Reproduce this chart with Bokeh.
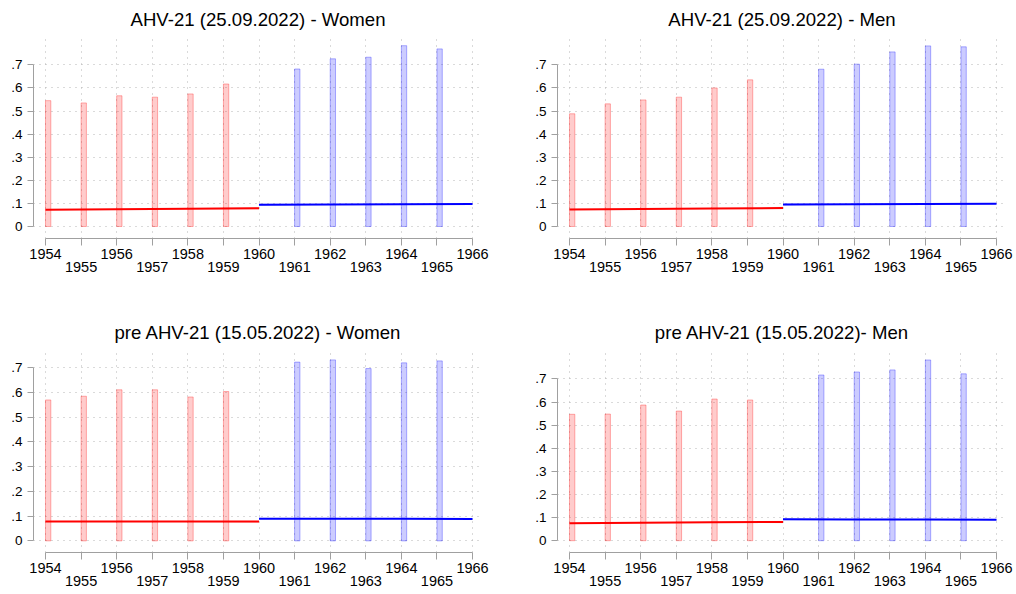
from bokeh.plotting import figure
from bokeh.layouts import column, row
from bokeh.models import (LinearAxis, FixedTicker, Range1d, CustomJSTickFormatter)
from bokeh.embed import file_html
from bokeh.resources import INLINE

# Birth cohorts (bars) and fit support points
red_years = [1954, 1955, 1956, 1957, 1958, 1959]
blue_years = [1961, 1962, 1963, 1964, 1965]
x_ticks = [1954, 1955, 1956, 1957, 1958, 1959, 1960, 1961, 1962, 1963, 1964, 1965, 1966]
odd_ticks = [1955, 1957, 1959, 1961, 1963, 1965]
y_ticks = [0, 0.1, 0.2, 0.3, 0.4, 0.5, 0.6, 0.7]

fit_x_red = [1954, 1956, 1958, 1960]
fit_x_blue = [1960, 1962, 1964, 1966]

titles = [
    "AHV-21 (25.09.2022) - Women",
    "AHV-21 (25.09.2022) - Men",
    "pre AHV-21 (15.05.2022) - Women",
    "pre AHV-21 (15.05.2022)- Men",
]

# Bar heights per cohort
w22_red = [0.545, 0.535, 0.566, 0.560, 0.574, 0.617]
w22_blue = [0.682, 0.726, 0.733, 0.783, 0.769]
m22_red = [0.488, 0.531, 0.548, 0.560, 0.600, 0.635]
m22_blue = [0.681, 0.703, 0.756, 0.782, 0.778]
wpre_red = [0.570, 0.585, 0.611, 0.611, 0.582, 0.604]
wpre_blue = [0.723, 0.732, 0.697, 0.720, 0.728]
mpre_red = [0.547, 0.548, 0.587, 0.561, 0.613, 0.609]
mpre_blue = [0.717, 0.730, 0.739, 0.782, 0.722]

# Fitted lines with confidence bands
w22_fit_red = [0.073, 0.075, 0.077, 0.079]
w22_lo_red = [0.070, 0.074, 0.075, 0.074]
w22_hi_red = [0.076, 0.076, 0.079, 0.084]
w22_fit_blue = [0.094, 0.095, 0.096, 0.097]
w22_lo_blue = [0.089, 0.094, 0.095, 0.095]
w22_hi_blue = [0.099, 0.096, 0.097, 0.099]

m22_fit_red = [0.074, 0.076, 0.078, 0.080]
m22_lo_red = [0.071, 0.075, 0.076, 0.075]
m22_hi_red = [0.077, 0.077, 0.080, 0.085]
m22_fit_blue = [0.095, 0.096, 0.097, 0.098]
m22_lo_blue = [0.090, 0.095, 0.096, 0.096]
m22_hi_blue = [0.100, 0.097, 0.098, 0.100]

wpre_fit_red = [0.078, 0.078, 0.078, 0.078]
wpre_lo_red = [0.076, 0.077, 0.076, 0.072]
wpre_hi_red = [0.080, 0.079, 0.080, 0.080]
wpre_fit_blue = [0.089, 0.089, 0.089, 0.088]
wpre_lo_blue = [0.087, 0.088, 0.088, 0.086]
wpre_hi_blue = [0.094, 0.090, 0.090, 0.090]

mpre_fit_red = [0.076, 0.078, 0.080, 0.081]
mpre_lo_red = [0.072, 0.077, 0.078, 0.076]
mpre_hi_red = [0.078, 0.079, 0.082, 0.086]
mpre_fit_blue = [0.093, 0.092, 0.092, 0.091]
mpre_lo_blue = [0.088, 0.091, 0.091, 0.089]
mpre_hi_blue = [0.097, 0.093, 0.093, 0.093]

panels = [
    dict(red=w22_red, blue=w22_blue, fr=w22_fit_red, lr=w22_lo_red, hr=w22_hi_red,
         fb=w22_fit_blue, lb=w22_lo_blue, hb=w22_hi_blue),
    dict(red=m22_red, blue=m22_blue, fr=m22_fit_red, lr=m22_lo_red, hr=m22_hi_red,
         fb=m22_fit_blue, lb=m22_lo_blue, hb=m22_hi_blue),
    dict(red=wpre_red, blue=wpre_blue, fr=wpre_fit_red, lr=wpre_lo_red, hr=wpre_hi_red,
         fb=wpre_fit_blue, lb=wpre_lo_blue, hb=wpre_hi_blue),
    dict(red=mpre_red, blue=mpre_blue, fr=mpre_fit_red, lr=mpre_lo_red, hr=mpre_hi_red,
         fb=mpre_fit_blue, lb=mpre_lo_blue, hb=mpre_hi_blue),
]

FONT = "Liberation Sans"
AXIS_GREY = "#a0a0a0"
GRID_GREY = "#b4b4b4"
BAR_W = 0.15

# width, height, border left/right/top/bottom, title standoff, y range
layout_spec = [
    dict(w=500, h=300, bl=33, br=18, bt=35, bb=62, so=11, y0=-0.052, y1=0.827),
    dict(w=516, h=300, bl=57, br=10, bt=35, bb=62, so=11, y0=-0.052, y1=0.827),
    dict(w=500, h=294, bl=33, br=18, bt=50, bb=42, so=15, y0=-0.047, y1=0.770),
    dict(w=516, h=294, bl=57, br=10, bt=50, bb=42, so=15, y0=-0.051, y1=0.823),
]

y_fmt = CustomJSTickFormatter(code="""
    if (Math.abs(tick) < 1e-9) return "0";
    return tick.toFixed(1).replace(/^0/, "");
""")
even_fmt = CustomJSTickFormatter(code="""
    return (Math.round(tick) % 2 == 0) ? String(Math.round(tick)) : "";
""")


def make_panel(title, d, s):
    p = figure(width=s["w"], height=s["h"], output_backend="svg", toolbar_location=None,
               x_range=Range1d(1953.663, 1966.28), y_range=Range1d(s["y0"], s["y1"]),
               min_border_left=s["bl"], min_border_right=s["br"],
               min_border_top=s["bt"], min_border_bottom=s["bb"])
    p.outline_line_color = None
    p.background_fill_color = "white"
    p.border_fill_color = "white"

    p.title.text = title
    p.title.align = "center"
    p.title.text_font = FONT
    p.title.text_font_size = "18.6px"
    p.title.text_font_style = "normal"
    p.title.text_color = "#000000"
    p.title.standoff = s["so"]

    # y axis
    ya = p.yaxis[0]
    ya.ticker = FixedTicker(ticks=y_ticks)
    ya.formatter = y_fmt
    ya.bounds = (0, 0.7)
    ya.axis_line_color = AXIS_GREY
    ya.major_tick_line_color = AXIS_GREY
    ya.minor_tick_line_color = None
    ya.major_tick_in = 0
    ya.major_tick_out = 6
    ya.major_label_standoff = 5
    ya.major_label_text_font = FONT
    ya.major_label_text_font_size = "13.5px"
    ya.major_label_text_color = "#000000"
    ya.major_label_orientation = "horizontal"

    # x axis with even-year labels
    xa = p.xaxis[0]
    xa.ticker = FixedTicker(ticks=x_ticks)
    xa.formatter = even_fmt
    xa.bounds = (1954, 1966)
    xa.axis_line_color = AXIS_GREY
    xa.major_tick_line_color = AXIS_GREY
    xa.minor_tick_line_color = None
    xa.major_tick_in = 0
    xa.major_tick_out = 7
    xa.major_label_standoff = 3
    xa.major_label_text_font = FONT
    xa.major_label_text_font_size = "14.5px"
    xa.major_label_text_color = "#000000"

    # second row of labels for odd years
    xb = LinearAxis(ticker=FixedTicker(ticks=odd_ticks))
    xb.axis_line_color = None
    xb.major_tick_line_color = None
    xb.minor_tick_line_color = None
    xb.major_tick_in = 0
    xb.major_tick_out = 0
    xb.major_label_standoff = 0
    xb.major_label_text_font = FONT
    xb.major_label_text_font_size = "14.5px"
    xb.major_label_text_color = "#000000"
    p.add_layout(xb, "below")

    # dotted grids
    p.xgrid.ticker = FixedTicker(ticks=x_ticks)
    p.ygrid.ticker = FixedTicker(ticks=y_ticks)
    for g in (p.xgrid[0], p.ygrid[0]):
        g.grid_line_color = GRID_GREY
        g.grid_line_dash = "1 5"
        g.grid_line_width = 1

    # cohort bars
    p.quad(left=red_years, right=[x + BAR_W for x in red_years], bottom=0, top=d["red"],
           fill_color="#ff0000", fill_alpha=0.2, line_color="#ff0000", line_alpha=0.3,
           line_width=1)
    p.quad(left=blue_years, right=[x + BAR_W for x in blue_years], bottom=0, top=d["blue"],
           fill_color="#0000ff", fill_alpha=0.2, line_color="#0000ff", line_alpha=0.3,
           line_width=1)

    # confidence bands and fitted lines
    p.varea(x=fit_x_red, y1=d["lr"], y2=d["hr"], fill_color="#ff0000", fill_alpha=0.15)
    p.varea(x=fit_x_blue, y1=d["lb"], y2=d["hb"], fill_color="#0000ff", fill_alpha=0.15)
    p.line(fit_x_red, d["fr"], line_color="#ff0000", line_width=2)
    p.line(fit_x_blue, d["fb"], line_color="#0000ff", line_width=2)
    return p


figs = [make_panel(t, d, s) for t, d, s in zip(titles, panels, layout_spec)]
layout = column(row(figs[0], figs[1]), row(figs[2], figs[3]))

open("out.html", "w").write(file_html(layout, INLINE))
